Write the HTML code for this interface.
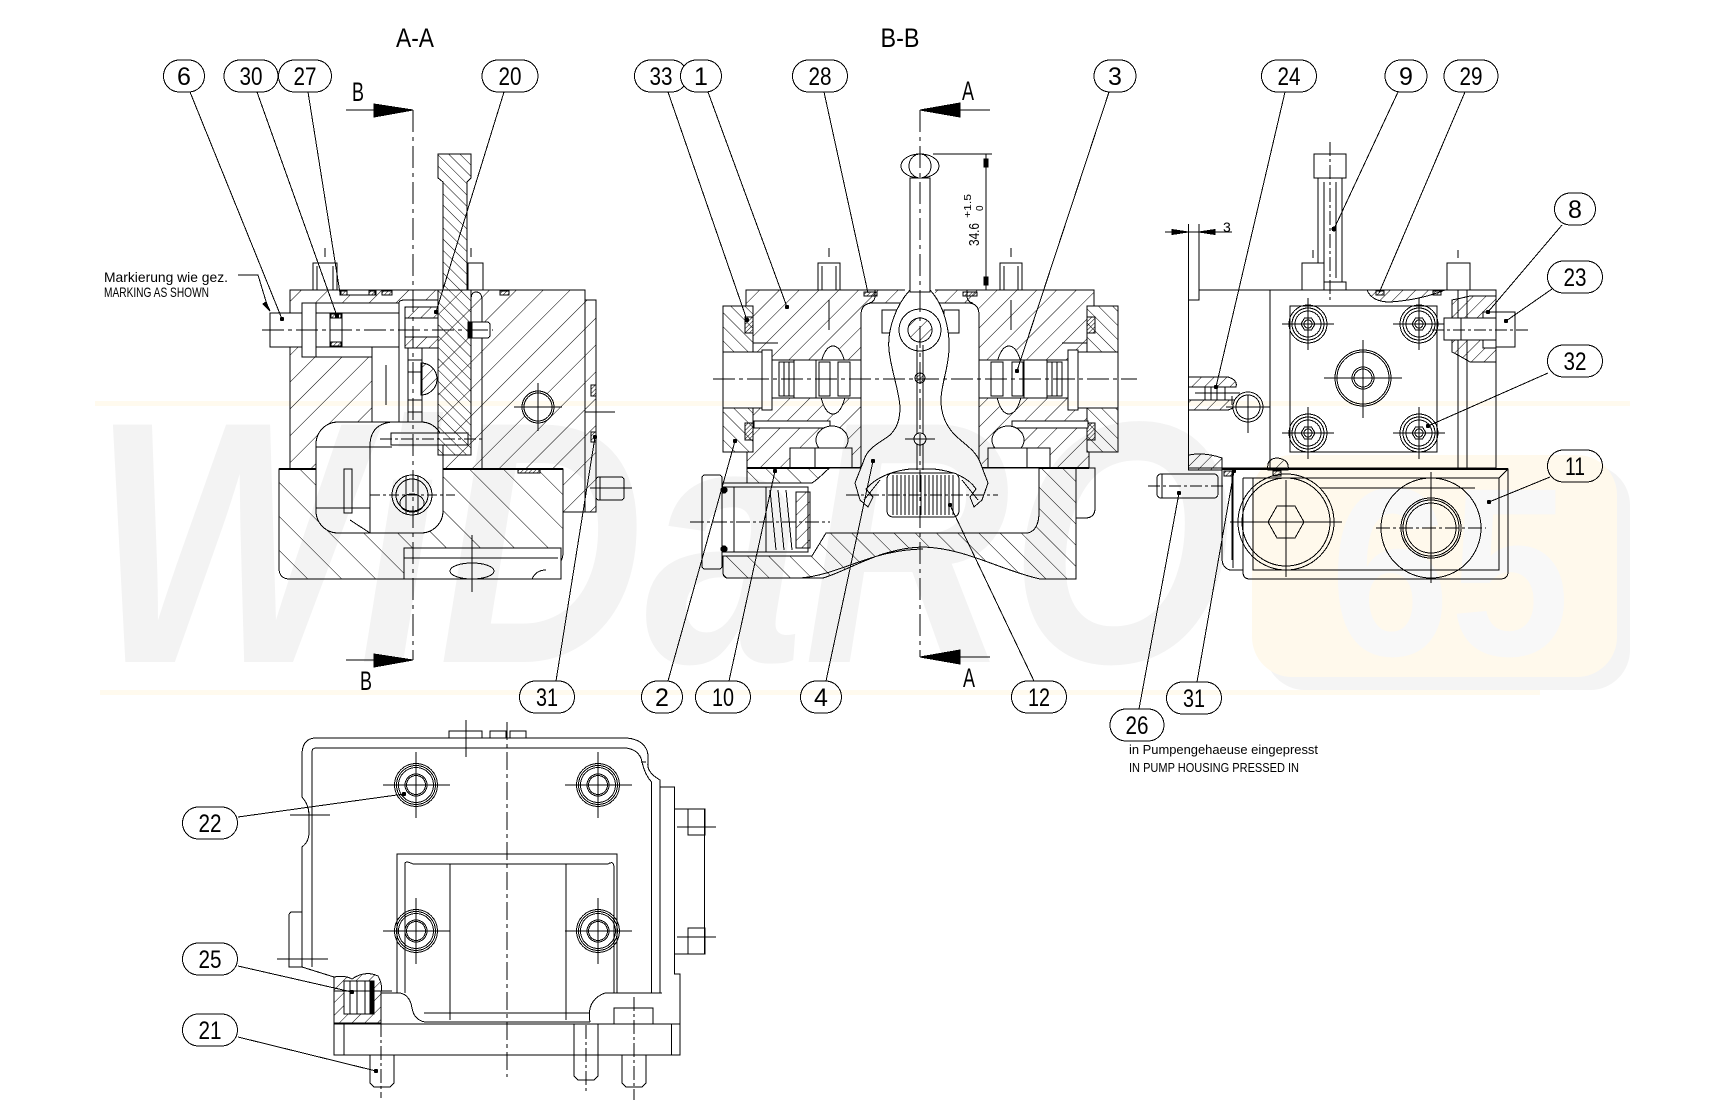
<!DOCTYPE html>
<html><head><meta charset="utf-8"><style>
html,body{margin:0;padding:0;background:#fff;}
svg{display:block;}
text{font-family:"Liberation Sans Narrow","Liberation Sans",sans-serif;fill:#000;stroke:none;}
</style></head><body>
<svg width="1714" height="1103" viewBox="0 0 1714 1103" xmlns="http://www.w3.org/2000/svg">
<defs>
<pattern id="hA" patternUnits="userSpaceOnUse" width="19" height="19" patternTransform="rotate(45)"><line x1="0" y1="0" x2="0" y2="19" stroke="#000" stroke-width="1"/></pattern>
<pattern id="hAL" patternUnits="userSpaceOnUse" width="24" height="24" patternTransform="rotate(-45)"><line x1="0" y1="0" x2="0" y2="24" stroke="#000" stroke-width="1"/></pattern>
<pattern id="hL" patternUnits="userSpaceOnUse" width="8" height="8" patternTransform="rotate(-45)"><line x1="0" y1="0" x2="0" y2="8" stroke="#000" stroke-width="1"/></pattern>
<pattern id="hB" patternUnits="userSpaceOnUse" width="14" height="14" patternTransform="rotate(45)"><line x1="0" y1="0" x2="0" y2="14" stroke="#000" stroke-width="1"/></pattern>
<pattern id="hBs" patternUnits="userSpaceOnUse" width="10" height="10" patternTransform="rotate(-45)"><line x1="0" y1="0" x2="0" y2="10" stroke="#000" stroke-width="1"/></pattern>
<pattern id="hBL" patternUnits="userSpaceOnUse" width="15" height="15" patternTransform="rotate(-45)"><line x1="0" y1="0" x2="0" y2="15" stroke="#000" stroke-width="1"/></pattern>
<pattern id="hS" patternUnits="userSpaceOnUse" width="3" height="3" patternTransform="rotate(45)"><line x1="0" y1="0" x2="0" y2="3" stroke="#000" stroke-width="1"/></pattern>
<pattern id="hR" patternUnits="userSpaceOnUse" width="9" height="9" patternTransform="rotate(45)"><line x1="0" y1="0" x2="0" y2="9" stroke="#000" stroke-width="1"/></pattern>
</defs>
<rect x="0" y="0" width="1714" height="1103" fill="#fff"/>

<g stroke="#000" stroke-width="1" fill="none" shape-rendering="crispEdges">

<!-- ================= A-A VIEW ================= -->
<rect x="313" y="263" width="24" height="27" fill="#fff"/>
<line x1="317" y1="266" x2="317" y2="290"/><line x1="333" y1="266" x2="333" y2="290"/>
<line x1="325" y1="248" x2="325" y2="257"/>
<rect x="468" y="263" width="15" height="27" fill="#fff"/>
<line x1="471" y1="248" x2="471" y2="257"/>
<path d="M290,290H585V300H596V512H563V469H290Z" fill="url(#hA)"/>
<path d="M279,469H563V552Q563,566 550,568Q538,570 532,579H290Q279,579 279,568Z" fill="url(#hAL)"/>
<line x1="279" y1="469" x2="563" y2="469" stroke-width="2"/>
<line x1="585" y1="300" x2="585" y2="512"/>
<rect x="591" y="385" width="5" height="11" fill="url(#hS)"/>
<rect x="591" y="432" width="5" height="10" fill="url(#hS)"/>
<rect x="340" y="290" width="36" height="5" fill="#fff"/>
<rect x="341" y="291" width="6" height="4" fill="url(#hS)"/><rect x="369" y="291" width="6" height="4" fill="url(#hS)"/>
<rect x="382" y="291" width="10" height="4" fill="url(#hS)"/>
<rect x="500" y="291" width="9" height="4" fill="url(#hS)"/>
<rect x="302" y="303" width="103" height="54" fill="#fff"/>
<rect x="270" y="313" width="32" height="34" fill="#fff"/>
<rect x="302" y="303" width="14" height="54" fill="#fff"/>
<rect x="316" y="313" width="89" height="34" fill="#fff"/>
<rect x="330" y="313" width="12" height="34" fill="#fff"/>
<rect x="331" y="314" width="10" height="4" fill="url(#hS)"/><rect x="331" y="342" width="10" height="4" fill="url(#hS)"/>
<rect x="372" y="347" width="27" height="75" fill="#fff"/>
<path d="M399,303Q399,300 405,300H438V468H399Z" fill="#fff"/>
<rect x="405" y="307" width="33" height="11" fill="url(#hR)"/>
<rect x="405" y="337" width="33" height="11" fill="url(#hR)"/>
<rect x="405" y="318" width="33" height="19" fill="#fff"/>
<rect x="408" y="348" width="14" height="150" fill="#fff"/>
<line x1="408" y1="360" x2="422" y2="360"/><line x1="408" y1="372" x2="422" y2="372"/><line x1="408" y1="400" x2="422" y2="400"/><line x1="408" y1="412" x2="422" y2="412"/><line x1="408" y1="452" x2="422" y2="452"/><line x1="408" y1="462" x2="422" y2="462"/>
<path d="M421,363A16,16 0 0 1 421,395Z" fill="url(#hR)"/>
<rect x="316" y="422" width="127" height="111" rx="22" fill="#fff"/>
<path d="M392,422Q370,424 370,446V533"/>
<line x1="316" y1="447" x2="392" y2="447"/>
<line x1="316" y1="508" x2="370" y2="508"/>
<rect x="344" y="469" width="8" height="44"/>
<line x1="350" y1="520" x2="370" y2="533"/>
<rect x="391" y="433" width="77" height="12" fill="#fff"/>
<line x1="380" y1="439" x2="485" y2="439" stroke-dasharray="12,3,3,3"/>
<path d="M438,154H471V178L467,182V290H471V455H438V290H443V182L438,178Z" fill="url(#hL)"/>
<path d="M438,154H471V178L467,182V290" />
<path d="M471,300Q471,292 476,292Q482,292 482,300V468" />
<rect x="468" y="322" width="22" height="16" rx="3" fill="#fff"/>
<rect x="468" y="322" width="4" height="16" fill="#000"/>
<circle cx="412" cy="495" r="20" fill="#fff"/>
<circle cx="412" cy="495" r="16"/>
<ellipse cx="412" cy="503" rx="12" ry="9"/>
<line x1="406" y1="476" x2="406" y2="514"/><line x1="418" y1="476" x2="418" y2="514"/>
<line x1="370" y1="495" x2="455" y2="495" stroke-dasharray="10,3,3,3"/>
<circle cx="538" cy="407" r="16" fill="#fff"/>
<circle cx="538" cy="407" r="14"/>
<line x1="514" y1="407" x2="562" y2="407"/><line x1="538" y1="383" x2="538" y2="431"/>
<line x1="585" y1="412" x2="615" y2="412"/>
<rect x="404" y="548" width="157" height="31" fill="#fff"/>
<line x1="404" y1="558" x2="558" y2="558"/>
<ellipse cx="472" cy="571" rx="22" ry="8" fill="#fff"/>
<line x1="472" y1="535" x2="472" y2="592"/>
<path d="M532,579Q536,570 546,570"/>
<rect x="518" y="469" width="22" height="4" fill="url(#hS)"/>
<rect x="596" y="477" width="28" height="23" rx="3" fill="#fff"/>
<line x1="600" y1="477" x2="600" y2="500"/>
<line x1="590" y1="488" x2="632" y2="488"/>
<line x1="262" y1="330" x2="493" y2="330" stroke-dasharray="22,4,4,4"/>
<line x1="413" y1="110" x2="413" y2="660" stroke-dasharray="22,5,4,5"/>
<line x1="386" y1="405" x2="386" y2="365"/>
<line x1="346" y1="110" x2="413" y2="110"/>
<polygon points="374,104 413,110 374,117" fill="#000"/>
<line x1="346" y1="660" x2="413" y2="660"/>
<polygon points="374,654 413,660 374,667" fill="#000"/>
<polyline points="238,275 258,275 268,308"/>
<polygon points="266,302 270,311 263,304" fill="#000"/>

<!-- ================= B-B VIEW ================= -->
<rect x="818" y="263" width="22" height="27" fill="#fff"/>
<line x1="822" y1="266" x2="822" y2="290"/><line x1="836" y1="266" x2="836" y2="290"/>
<line x1="829" y1="248" x2="829" y2="257"/>
<rect x="1000" y="263" width="22" height="27" fill="#fff"/>
<line x1="1004" y1="266" x2="1004" y2="290"/><line x1="1018" y1="266" x2="1018" y2="290"/>
<line x1="1011" y1="248" x2="1011" y2="257"/>
<path d="M746,290H1094V306H1118V452H1089V468H747V452H723V306H746Z" fill="url(#hB)"/>
<rect x="723" y="306" width="30" height="146" fill="#fff"/>
<rect x="723" y="306" width="30" height="146" fill="url(#hBs)"/>
<rect x="1087" y="306" width="31" height="146" fill="#fff"/>
<rect x="1087" y="306" width="31" height="146" fill="url(#hBs)"/>
<line x1="746" y1="306" x2="753" y2="306"/><line x1="1087" y1="306" x2="1094" y2="306"/>
<path d="M753,306V343H778"/>
<path d="M1087,306V343H1062"/>
<rect x="745" y="317" width="8" height="16" fill="url(#hS)"/><rect x="745" y="423" width="8" height="17" fill="url(#hS)"/>
<rect x="1087" y="317" width="8" height="16" fill="url(#hS)"/><rect x="1087" y="423" width="8" height="17" fill="url(#hS)"/>
<rect x="864" y="292" width="13" height="4" fill="url(#hS)"/>
<rect x="963" y="292" width="14" height="4" fill="url(#hS)"/>
<rect x="723" y="352" width="40" height="56" fill="#fff"/>
<rect x="762" y="350" width="10" height="60" fill="#fff"/>
<rect x="1078" y="352" width="40" height="56" fill="#fff"/>
<rect x="1068" y="350" width="10" height="60" fill="#fff"/>
<ellipse cx="833" cy="380" rx="14" ry="34" fill="#fff"/>
<ellipse cx="1009" cy="380" rx="14" ry="34" fill="#fff"/>
<rect x="772" y="360" width="296" height="38" fill="#fff"/>
<rect x="779" y="362" width="15" height="34"/><line x1="784" y1="362" x2="784" y2="396"/><line x1="789" y1="362" x2="789" y2="396"/>
<rect x="794" y="360" width="22" height="38"/><rect x="819" y="362" width="11" height="34"/><rect x="838" y="362" width="12" height="34"/>
<rect x="1047" y="362" width="15" height="34"/><line x1="1052" y1="362" x2="1052" y2="396"/><line x1="1057" y1="362" x2="1057" y2="396"/>
<rect x="1024" y="360" width="23" height="38"/><rect x="1012" y="362" width="11" height="34"/><rect x="991" y="362" width="12" height="34"/>
<rect x="754" y="421" width="76" height="7" fill="#fff"/>
<rect x="1012" y="421" width="76" height="7" fill="#fff"/>
<ellipse cx="832" cy="440" rx="16" ry="14" fill="#fff"/>
<ellipse cx="1008" cy="440" rx="16" ry="14" fill="#fff"/>
<rect x="790" y="448" width="62" height="20" fill="#fff"/><line x1="815" y1="448" x2="815" y2="468"/>
<rect x="988" y="448" width="62" height="20" fill="#fff"/><line x1="1027" y1="448" x2="1027" y2="468"/>
<path d="M861,468V315Q861,303 873,303H968Q979,303 979,315V468Z" fill="#fff"/>
<rect x="905" y="288" width="30" height="16" fill="#fff" stroke="none"/>
<path d="M875,290V296Q875,302 869,303M967,290V296Q967,302 973,303"/>
<rect x="882" y="310" width="15" height="23" fill="#fff"/><rect x="944" y="310" width="15" height="23" fill="#fff"/>
<path d="M747,468H1076V579H1040C1000,570 965,548 923,547C880,548 850,570 823,578H730Q723,579 723,572V483H747Z" fill="url(#hBL)"/>
<line x1="747" y1="468" x2="1089" y2="468" stroke-width="2"/>
<path d="M1076,468H1095V508Q1095,518 1085,518H1076"/>
<path d="M722,483H812C820,478 826,470 830,468H1039V512Q1039,530 1028,533H826L812,556H722Z" fill="#fff"/>
<path d="M800,578C840,575 870,550 923,549"/>
<rect x="702" y="475" width="20" height="94" rx="3" fill="#fff"/>
<rect x="722" y="487" width="86" height="65" fill="#fff"/>
<line x1="734" y1="487" x2="734" y2="552"/><line x1="766" y1="487" x2="766" y2="552"/>
<line x1="770" y1="490" x2="776" y2="550"/><line x1="778" y1="490" x2="784" y2="550"/><line x1="786" y1="490" x2="792" y2="550"/>
<rect x="796" y="492" width="14" height="56" fill="url(#hR)"/>
<circle cx="724" cy="490" r="3" fill="#000"/><circle cx="724" cy="549" r="3" fill="#000"/>
<line x1="690" y1="522" x2="830" y2="522" stroke-dasharray="14,3,3,3"/>
<path d="M910,290C896,305 887,330 889,350C891,370 899,390 900,407C900,420 897,428 890,435C880,443 868,447 864,460L855,483L860,500L868,507L873,497L866,489C876,477 893,471 910,469H934C952,471 968,477 976,489L970,497L974,507L982,500L988,483L980,462C975,449 962,443 953,433C946,425 941,415 941,400C941,385 948,370 949,350C950,330 944,305 930,290Z" fill="#fff"/>
<line x1="880" y1="480" x2="864" y2="500"/><line x1="962" y1="480" x2="978" y2="500"/>
<circle cx="920" cy="330" r="21" fill="#fff"/>
<circle cx="920" cy="330" r="12" fill="url(#hR)"/>
<line x1="917" y1="345" x2="917" y2="470"/><line x1="923" y1="345" x2="923" y2="470"/>
<circle cx="920" cy="378" r="5" fill="url(#hS)"/>
<circle cx="920" cy="439" r="6" fill="#fff"/>
<line x1="905" y1="439" x2="935" y2="439"/>
<rect x="910" y="178" width="20" height="114" fill="#fff"/>
<ellipse cx="920" cy="166" rx="19" ry="12" fill="#fff"/>
<ellipse cx="920" cy="166" rx="11" ry="12"/>
<rect x="887" y="473" width="72" height="44" rx="6" fill="#fff"/>
<g>
<line x1="893" y1="475" x2="893" y2="515"/><line x1="897" y1="475" x2="897" y2="515"/><line x1="901" y1="475" x2="901" y2="515"/><line x1="905" y1="475" x2="905" y2="515"/><line x1="909" y1="475" x2="909" y2="515"/><line x1="913" y1="475" x2="913" y2="515"/><line x1="917" y1="475" x2="917" y2="515"/><line x1="921" y1="475" x2="921" y2="515"/><line x1="925" y1="475" x2="925" y2="515"/><line x1="929" y1="475" x2="929" y2="515"/><line x1="933" y1="475" x2="933" y2="515"/><line x1="937" y1="475" x2="937" y2="515"/><line x1="941" y1="475" x2="941" y2="515"/><line x1="945" y1="475" x2="945" y2="515"/><line x1="949" y1="475" x2="949" y2="515"/><line x1="953" y1="475" x2="953" y2="515"/>
</g>
<line x1="846" y1="495" x2="998" y2="495" stroke-dasharray="12,3,3,3"/>
<line x1="713" y1="379" x2="1137" y2="379" stroke-dasharray="22,4,4,4"/>
<line x1="920" y1="110" x2="920" y2="657" stroke-dasharray="22,5,4,5"/>
<line x1="829" y1="300" x2="829" y2="330"/><line x1="1011" y1="300" x2="1011" y2="330"/>
<line x1="920" y1="110" x2="990" y2="110"/>
<polygon points="920,110 960,103 960,117" fill="#000"/>
<line x1="920" y1="657" x2="990" y2="657"/>
<polygon points="920,657 960,650 960,664" fill="#000"/>
<line x1="933" y1="154" x2="992" y2="154"/>
<line x1="986" y1="154" x2="986" y2="290"/>
<rect x="984" y="159" width="4" height="8" fill="#000"/>
<rect x="984" y="277" width="4" height="8" fill="#000"/>

<!-- ================= RIGHT VIEW ================= -->
<line x1="1188.5" y1="224" x2="1188.5" y2="300"/>
<line x1="1199" y1="224" x2="1199" y2="290"/>
<line x1="1165" y1="232" x2="1232" y2="232"/>
<polygon points="1172,229.5 1188,232 1172,234.5" fill="#000"/>
<polygon points="1215,229.5 1199,232 1215,234.5" fill="#000"/>
<rect x="1314" y="154" width="32" height="24" fill="#fff"/>
<rect x="1318" y="178" width="24" height="104" fill="#fff"/>
<line x1="1324" y1="182" x2="1324" y2="278"/><line x1="1336" y1="182" x2="1336" y2="278"/>
<path d="M1318,282H1346V290"/>
<line x1="1330" y1="142" x2="1330" y2="300" stroke-dasharray="14,3,3,3"/>
<circle cx="1334" cy="229" r="2" fill="#000"/>
<rect x="1302" y="263" width="22" height="27" fill="#fff"/>
<line x1="1313" y1="250" x2="1313" y2="258"/>
<rect x="1447" y="263" width="23" height="27" fill="#fff"/>
<line x1="1458" y1="250" x2="1458" y2="258"/>
<path d="M1199,290H1496V468H1188.5V300H1199Z"/>
<line x1="1270" y1="290" x2="1270" y2="468"/>
<line x1="1458" y1="290" x2="1458" y2="468"/><line x1="1467" y1="290" x2="1467" y2="468"/>
<path d="M1367,290Q1372,302 1390,302Q1420,300 1445,290" fill="url(#hR)"/>
<rect x="1376" y="291" width="8" height="4" fill="url(#hS)"/>
<rect x="1433" y="291" width="8" height="4" fill="url(#hS)"/>
<rect x="1290" y="306" width="147" height="146"/>
<g>
<circle cx="1308" cy="324" r="19"/><circle cx="1308" cy="324" r="16"/><circle cx="1308" cy="324" r="13"/>
<polygon points="1301,324 1304.5,318 1311.5,318 1315,324 1311.5,330 1304.5,330"/><circle cx="1308" cy="324" r="4"/>
<line x1="1282" y1="324" x2="1334" y2="324"/><line x1="1308" y1="298" x2="1308" y2="350"/>
<circle cx="1419" cy="324" r="19"/><circle cx="1419" cy="324" r="16"/><circle cx="1419" cy="324" r="13"/>
<polygon points="1412,324 1415.5,318 1422.5,318 1426,324 1422.5,330 1415.5,330"/><circle cx="1419" cy="324" r="4"/>
<line x1="1393" y1="324" x2="1445" y2="324"/><line x1="1419" y1="298" x2="1419" y2="350"/>
<circle cx="1308" cy="433" r="19"/><circle cx="1308" cy="433" r="16"/><circle cx="1308" cy="433" r="13"/>
<polygon points="1301,433 1304.5,427 1311.5,427 1315,433 1311.5,439 1304.5,439"/><circle cx="1308" cy="433" r="4"/>
<line x1="1282" y1="433" x2="1334" y2="433"/><line x1="1308" y1="407" x2="1308" y2="459"/>
<circle cx="1419" cy="433" r="19"/><circle cx="1419" cy="433" r="16"/><circle cx="1419" cy="433" r="13"/>
<polygon points="1412,433 1415.5,427 1422.5,427 1426,433 1422.5,439 1415.5,439"/><circle cx="1419" cy="433" r="4"/>
<line x1="1393" y1="433" x2="1445" y2="433"/><line x1="1419" y1="407" x2="1419" y2="459"/>
<circle cx="1363" cy="378" r="28"/><circle cx="1363" cy="378" r="26"/>
<circle cx="1363" cy="378" r="11"/><circle cx="1363" cy="378" r="9"/>
<line x1="1324" y1="378" x2="1402" y2="378"/><line x1="1363" y1="340" x2="1363" y2="418"/>
</g>
<path d="M1452,300Q1462,298 1470,296H1496V362H1470Q1460,356 1452,352Z" fill="url(#hR)"/>
<rect x="1444" y="318" width="52" height="22" fill="#fff"/>
<line x1="1461" y1="318" x2="1461" y2="340"/>
<rect x="1483" y="312" width="13" height="6" fill="#fff"/><rect x="1483" y="340" width="13" height="8" fill="#fff"/>
<rect x="1496" y="312" width="19" height="35" fill="#fff"/>
<line x1="1432" y1="330" x2="1528" y2="330" stroke-dasharray="12,3,3,3"/>
<path d="M1188.5,377H1228Q1238,380 1236,387H1188.5Z" fill="url(#hR)"/>
<path d="M1188.5,400H1236Q1238,407 1228,410H1188.5Z" fill="url(#hR)"/>
<line x1="1205" y1="387" x2="1205" y2="400"/><line x1="1211" y1="387" x2="1211" y2="400"/><line x1="1217" y1="387" x2="1217" y2="400"/><line x1="1225" y1="387" x2="1225" y2="400"/>
<line x1="1195" y1="393" x2="1240" y2="393"/>
<circle cx="1248" cy="407" r="15" fill="#fff"/><circle cx="1248" cy="407" r="12"/>
<line x1="1226" y1="407" x2="1270" y2="407"/><line x1="1248" y1="395" x2="1248" y2="433"/>
<line x1="1232" y1="396" x2="1232" y2="405"/>
<path d="M1188.5,455Q1205,452 1222,458V470H1188.5Z" fill="url(#hR)"/>
<path d="M1268,470Q1266,458 1278,458Q1290,460 1288,470Z" fill="url(#hR)"/>
<path d="M1222,469H1508V572Q1508,579 1500,579H1250Q1243,579 1243,572V570H1230Q1222,568 1222,558Z"/>
<line x1="1222" y1="469" x2="1508" y2="469" stroke-width="2"/>
<line x1="1233" y1="472" x2="1233" y2="568"/>
<line x1="1243" y1="478" x2="1243" y2="570"/>
<path d="M1243,478H1499L1508,469M1499,478V570H1253V478"/>
<line x1="1320" y1="488" x2="1475" y2="488"/>
<circle cx="1286" cy="522" r="48"/><circle cx="1286" cy="522" r="44"/>
<polygon points="1268,522 1277,506 1295,506 1304,522 1295,538 1277,538"/>
<line x1="1230" y1="522" x2="1342" y2="522"/><line x1="1286" y1="480" x2="1286" y2="577"/>
<circle cx="1431" cy="528" r="50"/><circle cx="1431" cy="528" r="30"/><circle cx="1431" cy="528" r="28"/><circle cx="1431" cy="528" r="25"/>
<line x1="1376" y1="528" x2="1486" y2="528" stroke-dasharray="14,3,3,3"/><line x1="1431" y1="472" x2="1431" y2="583"/>
<rect x="1157" y="474" width="61" height="24" rx="4" fill="#fff"/>
<line x1="1162" y1="474" x2="1162" y2="498"/>
<line x1="1148" y1="486" x2="1226" y2="486" stroke-dasharray="12,3,3,3"/>
<line x1="1222" y1="470" x2="1222" y2="510"/>
<rect x="1224" y="471" width="8" height="5" fill="url(#hS)"/>
<rect x="1273" y="471" width="8" height="5" fill="url(#hS)"/>
<line x1="1232" y1="476" x2="1232" y2="560"/>

<!-- ================= BOTTOM VIEW ================= -->
<rect x="449" y="731" width="33" height="7"/>
<rect x="490" y="731" width="16" height="7"/><rect x="510" y="731" width="16" height="7"/>
<line x1="466" y1="720" x2="466" y2="757"/>
<path d="M302,797V755Q302,738 316,738H627Q646,740 648,755V762Q646,772 660,780V993"/>
<path d="M302,797Q309,805 309,815V832Q309,842 302,847V967L334,977"/>
<path d="M312,967V752Q312,748 316,748H626Q640,750 642,762Q645,775 651.5,782V993"/>
<line x1="646" y1="762" x2="641" y2="762"/>
<path d="M660,787H674.7V974H680V1055"/>
<rect x="674.7" y="809" width="30" height="145"/>
<rect x="688" y="809" width="17" height="26"/><rect x="688" y="928" width="17" height="26"/>
<line x1="677" y1="827" x2="716" y2="827"/><line x1="677" y1="937" x2="716" y2="937"/>
<path d="M302,912H292Q289,912 289,916V967H302"/>
<line x1="277" y1="959" x2="328" y2="959"/>
<rect x="334" y="1024" width="346" height="31"/>
<line x1="344" y1="1024" x2="344" y2="1055"/><line x1="671.7" y1="1024" x2="671.7" y2="1055"/>
<path d="M334,977Q345,975 352,979Q365,970 378,976Q383,985 381,993V1023H334Z" fill="url(#hR)"/>
<rect x="344" y="981" width="30" height="33" fill="#fff"/>
<line x1="350" y1="981" x2="350" y2="1014"/><line x1="357" y1="981" x2="357" y2="1014"/><line x1="365" y1="981" x2="365" y2="1014"/>
<rect x="370" y="982" width="3" height="31" fill="#000"/>
<line x1="334" y1="991" x2="392" y2="991"/>
<path d="M397,993V854H617V993"/>
<path d="M405,864Q405,860 413,864H608Q614,860 614,868V993"/>
<path d="M405,864V993"/>
<line x1="450" y1="864" x2="450" y2="1020"/><line x1="566" y1="864" x2="566" y2="1020"/>
<path d="M381,993H400Q410,995 412,1008Q414,1020 425,1022H590"/>
<path d="M590,1022Q586,1000 605,993H662"/>
<line x1="424" y1="1013" x2="590" y2="1013"/>
<path d="M614,1024V1008H653V1024"/>
<g>
<circle cx="416" cy="785" r="21.5"/><circle cx="416" cy="785" r="19.5"/><circle cx="416" cy="785" r="17.5"/><circle cx="416" cy="785" r="11"/><circle cx="416" cy="785" r="9.5"/>
<line x1="383" y1="785" x2="450" y2="785"/><line x1="416" y1="752" x2="416" y2="818"/>
<circle cx="598" cy="785" r="21.5"/><circle cx="598" cy="785" r="19.5"/><circle cx="598" cy="785" r="17.5"/><circle cx="598" cy="785" r="11"/><circle cx="598" cy="785" r="9.5"/>
<line x1="565" y1="785" x2="632" y2="785"/><line x1="598" y1="752" x2="598" y2="818"/>
<circle cx="416" cy="931" r="21.5"/><circle cx="416" cy="931" r="19.5"/><circle cx="416" cy="931" r="17.5"/><circle cx="416" cy="931" r="11"/><circle cx="416" cy="931" r="9.5"/>
<line x1="383" y1="931" x2="450" y2="931"/><line x1="416" y1="898" x2="416" y2="964"/>
<circle cx="598" cy="931" r="21.5"/><circle cx="598" cy="931" r="19.5"/><circle cx="598" cy="931" r="17.5"/><circle cx="598" cy="931" r="11"/><circle cx="598" cy="931" r="9.5"/>
<line x1="565" y1="931" x2="632" y2="931"/><line x1="598" y1="898" x2="598" y2="964"/>
</g>
<line x1="290" y1="815" x2="330" y2="815"/>
<line x1="507" y1="722" x2="507" y2="1077" stroke-dasharray="18,4,4,4"/>
<path d="M370,1055V1083L374,1087H390L394,1083V1055"/>
<path d="M574,1024V1076L578,1080H594L598,1076V1024"/>
<path d="M622,1055V1083L626,1087H642L646,1083V1055"/>
<line x1="381" y1="1000" x2="381" y2="1098" stroke-dasharray="14,3,3,3"/>
<line x1="586" y1="1025" x2="586" y2="1093" stroke-dasharray="14,3,3,3"/>
<line x1="634" y1="997" x2="634" y2="1100" stroke-dasharray="14,3,3,3"/>

<!-- ================= LEADERS ================= -->
<g stroke-width="1">
<line x1="190" y1="92" x2="282" y2="319"/>
<line x1="257" y1="92" x2="337" y2="316"/>
<line x1="308" y1="92" x2="340" y2="293"/>
<line x1="504" y1="92" x2="436" y2="312"/>
<line x1="668" y1="92" x2="747" y2="320"/>
<line x1="708" y1="92" x2="787" y2="307"/>
<line x1="824" y1="92" x2="868" y2="293"/>
<line x1="1109" y1="92" x2="1017" y2="371"/>
<line x1="1285" y1="92" x2="1216" y2="387"/>
<line x1="1398" y1="92" x2="1334" y2="229"/>
<line x1="1465" y1="92" x2="1379" y2="293"/>
<line x1="1562" y1="225" x2="1488" y2="312"/>
<line x1="1552" y1="289" x2="1506" y2="321"/>
<line x1="1548" y1="373" x2="1428" y2="426"/>
<line x1="1550" y1="477" x2="1489" y2="502"/>
<line x1="556" y1="681" x2="595" y2="437"/>
<line x1="668" y1="681" x2="735" y2="441"/>
<line x1="729" y1="681" x2="775" y2="471"/>
<line x1="826" y1="681" x2="873" y2="461"/>
<line x1="1034" y1="681" x2="950" y2="505"/>
<line x1="1139" y1="709" x2="1179" y2="493"/>
<line x1="1197" y1="682" x2="1234" y2="471"/>
<line x1="238" y1="817" x2="404" y2="794"/>
<line x1="238" y1="966" x2="352" y2="992"/>
<line x1="238" y1="1037" x2="376" y2="1071"/>
</g>
<g fill="#000" stroke="none">
<circle cx="282" cy="319" r="2.2"/><circle cx="337" cy="316" r="2.2"/><circle cx="436" cy="312" r="2.2"/>
<circle cx="747" cy="320" r="2.2"/><circle cx="787" cy="307" r="2.2"/><circle cx="1017" cy="371" r="2.2"/>
<circle cx="1216" cy="387" r="2.2"/><circle cx="1488" cy="312" r="2.2"/><circle cx="1506" cy="321" r="2.2"/>
<circle cx="1428" cy="426" r="2.2"/><circle cx="1489" cy="502" r="2.2"/><circle cx="595" cy="437" r="2.2"/>
<circle cx="735" cy="441" r="2.2"/><circle cx="775" cy="471" r="2.2"/><circle cx="873" cy="461" r="2.2"/>
<circle cx="950" cy="505" r="2.2"/><circle cx="1179" cy="493" r="2.2"/><circle cx="1234" cy="471" r="2.2"/>
<circle cx="404" cy="794" r="2.2"/><circle cx="352" cy="992" r="2.2"/><circle cx="376" cy="1071" r="2.2"/>
</g>

<!-- ================= BALLOONS ================= -->
<g fill="#fff">
<rect x="163.5" y="60" width="41" height="32" rx="16"/>
<rect x="224" y="60" width="54" height="32" rx="16"/>
<rect x="278.5" y="60" width="53" height="32" rx="16"/>
<rect x="482" y="60" width="56" height="32" rx="16"/>
<rect x="634.5" y="60" width="53" height="32" rx="16"/>
<rect x="680.5" y="60" width="41" height="32" rx="16"/>
<rect x="792.5" y="60" width="55" height="32" rx="16"/>
<rect x="1094" y="60" width="42" height="32" rx="16"/>
<rect x="1261.5" y="60" width="55" height="32" rx="16"/>
<rect x="1385" y="60" width="42" height="32" rx="16"/>
<rect x="1444" y="60" width="54" height="32" rx="16"/>
<rect x="1554.5" y="193" width="41" height="32" rx="16"/>
<rect x="1547.5" y="261" width="55" height="32" rx="16"/>
<rect x="1547.5" y="345" width="55" height="32" rx="16"/>
<rect x="1547.5" y="450" width="55" height="32" rx="16"/>
<rect x="519.5" y="681" width="55" height="32" rx="16"/>
<rect x="641.5" y="681" width="41" height="32" rx="16"/>
<rect x="695.5" y="681" width="55" height="32" rx="16"/>
<rect x="800.5" y="681" width="41" height="32" rx="16"/>
<rect x="1011.5" y="681" width="55" height="32" rx="16"/>
<rect x="1166.5" y="682" width="55" height="32" rx="16"/>
<rect x="1110" y="709" width="54" height="32" rx="16"/>
<rect x="182.5" y="807" width="55" height="32" rx="16"/>
<rect x="182.5" y="943" width="55" height="32" rx="16"/>
<rect x="182.5" y="1014" width="55" height="32" rx="16"/>
</g>
</g>

<!-- ================= TEXT ================= -->
<g font-size="25" text-anchor="middle">
<text x="184" y="85">6</text>
<text x="251" y="85" textLength="23" lengthAdjust="spacingAndGlyphs">30</text>
<text x="305" y="85" textLength="23" lengthAdjust="spacingAndGlyphs">27</text>
<text x="510" y="85" textLength="23" lengthAdjust="spacingAndGlyphs">20</text>
<text x="661" y="85" textLength="23" lengthAdjust="spacingAndGlyphs">33</text>
<text x="701" y="85">1</text>
<text x="820" y="85" textLength="23" lengthAdjust="spacingAndGlyphs">28</text>
<text x="1115" y="85">3</text>
<text x="1289" y="85" textLength="23" lengthAdjust="spacingAndGlyphs">24</text>
<text x="1406" y="85">9</text>
<text x="1471" y="85" textLength="23" lengthAdjust="spacingAndGlyphs">29</text>
<text x="1575" y="218">8</text>
<text x="1575" y="286" textLength="23" lengthAdjust="spacingAndGlyphs">23</text>
<text x="1575" y="370" textLength="23" lengthAdjust="spacingAndGlyphs">32</text>
<text x="1575" y="475" textLength="20" lengthAdjust="spacingAndGlyphs">11</text>
<text x="547" y="706" textLength="22" lengthAdjust="spacingAndGlyphs">31</text>
<text x="662" y="706">2</text>
<text x="723" y="706" textLength="22" lengthAdjust="spacingAndGlyphs">10</text>
<text x="821" y="706">4</text>
<text x="1039" y="706" textLength="22" lengthAdjust="spacingAndGlyphs">12</text>
<text x="1194" y="707" textLength="22" lengthAdjust="spacingAndGlyphs">31</text>
<text x="1137" y="734" textLength="23" lengthAdjust="spacingAndGlyphs">26</text>
<text x="210" y="832" textLength="23" lengthAdjust="spacingAndGlyphs">22</text>
<text x="210" y="968" textLength="23" lengthAdjust="spacingAndGlyphs">25</text>
<text x="210" y="1039" textLength="23" lengthAdjust="spacingAndGlyphs">21</text>
</g>
<g font-size="27" text-anchor="middle">
<text x="415" y="47" textLength="38" lengthAdjust="spacingAndGlyphs">A-A</text>
<text x="900" y="47" textLength="39" lengthAdjust="spacingAndGlyphs">B-B</text>
<text x="358" y="101" textLength="12" lengthAdjust="spacingAndGlyphs">B</text>
<text x="366" y="690" textLength="12" lengthAdjust="spacingAndGlyphs">B</text>
<text x="968" y="100" textLength="12" lengthAdjust="spacingAndGlyphs">A</text>
<text x="969" y="687" textLength="12" lengthAdjust="spacingAndGlyphs">A</text>
</g>
<g font-size="14">
<text x="104" y="282" textLength="124" lengthAdjust="spacingAndGlyphs">Markierung wie gez.</text>
<text x="104" y="297" textLength="105" lengthAdjust="spacingAndGlyphs">MARKING AS SHOWN</text>
<text x="1223" y="232">3</text>
</g>
<g font-size="13">
<text x="1129" y="754" textLength="189" lengthAdjust="spacingAndGlyphs">in Pumpengehaeuse eingepresst</text>
<text x="1129" y="772" textLength="170" lengthAdjust="spacingAndGlyphs">IN PUMP HOUSING PRESSED IN</text>
</g>
<text font-size="15" transform="translate(979,246) rotate(-90)" textLength="23" lengthAdjust="spacingAndGlyphs">34.6</text>
<text font-size="10" transform="translate(971,218) rotate(-90)" textLength="24" lengthAdjust="spacingAndGlyphs">+1.5</text>
<text font-size="10" transform="translate(983,211) rotate(-90)">0</text>

<!-- ================= WATERMARK (multiply) ================= -->
<g style="mix-blend-mode:multiply">
<rect x="95" y="401" width="1535" height="5" style="fill:#fffaee"/>
<rect x="100" y="690" width="1440" height="5" style="fill:#fffaee"/>
<rect x="1265" y="465" width="365" height="225" rx="40" style="fill:#f4f4f4"/>
<rect x="1252" y="455" width="365" height="222" rx="40" style="fill:#fff9ec"/>
<text x="1330" y="655" font-size="240" textLength="240" lengthAdjust="spacingAndGlyphs" style="fill:#f8f8f8;font-family:'Liberation Sans',sans-serif;font-weight:bold;">65</text>
<text x="92" y="662" font-size="345" textLength="1140" lengthAdjust="spacingAndGlyphs" style="fill:#f3f3f3;font-family:'Liberation Sans',sans-serif;font-weight:bold;font-style:italic;">WiDaRO</text>
</g>
</svg>
</body></html>
